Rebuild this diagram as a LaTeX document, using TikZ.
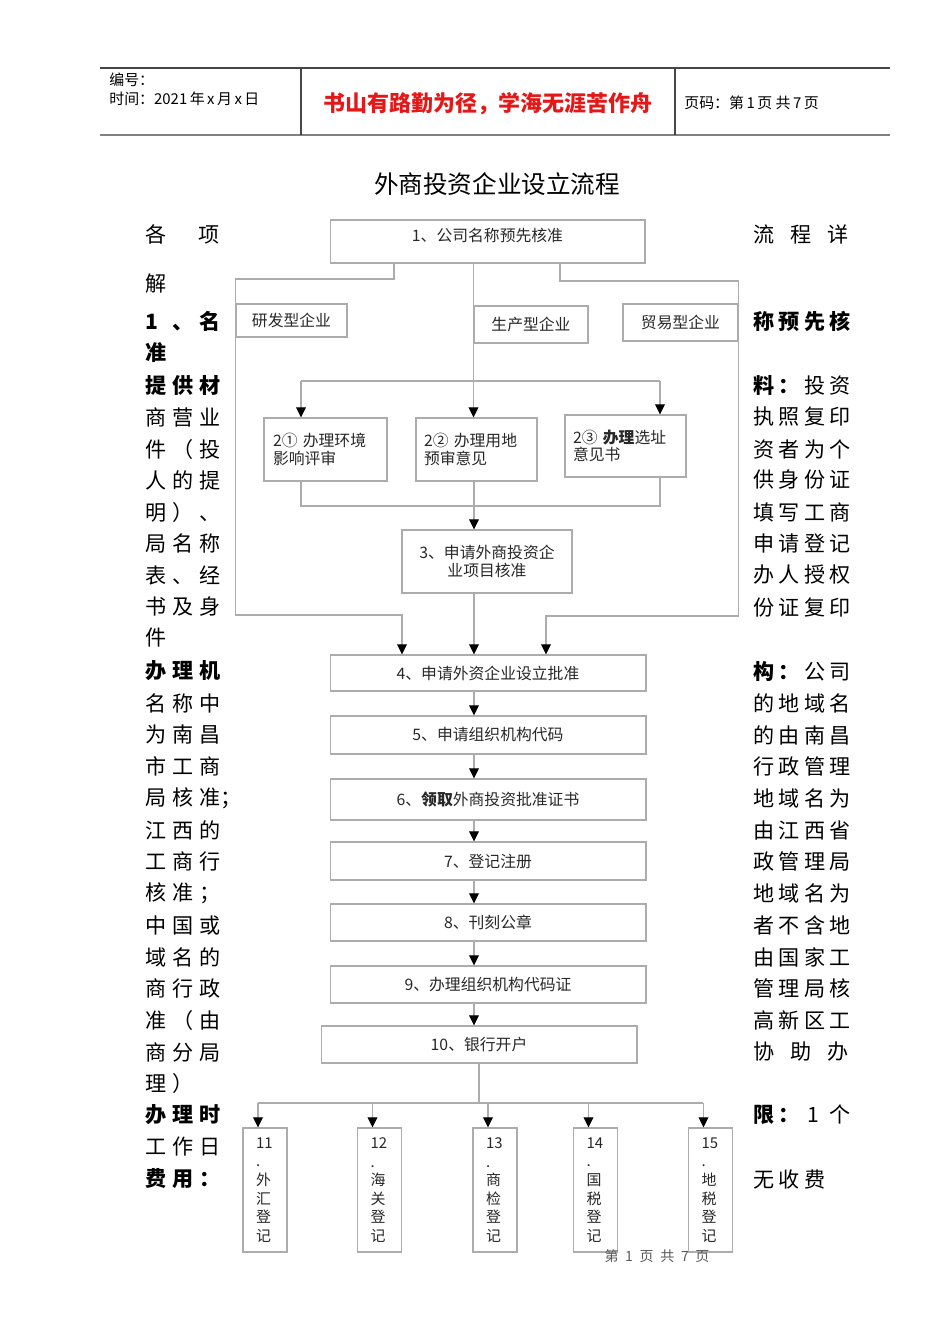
\documentclass[tikz,border=0pt]{standalone}
\usepackage{fontspec}
\setmainfont{Noto Sans CJK SC}
\usepackage{tikz}
\usetikzlibrary{arrows.meta,positioning,calc}
\definecolor{linegray}{RGB}{172,172,172}
\definecolor{ruleink}{RGB}{70,70,70}
\definecolor{mottored}{RGB}{228,24,24}
\definecolor{boxink}{RGB}{40,40,40}
% one character cell of the side columns
\newcommand\lc[1]{\makebox[0.54cm][l]{#1}}
\newcommand\rc[1]{\makebox[0.51cm][l]{#1}}
\newcommand\lrow[5][]{\node[colrow,#1] (l#2) at (145,#2) {\lc{#3}\lc{#4}\lc{#5}};}
\newcommand\rrow[6][]{\node[colrow,#1] (r#2) at (753,#2) {\rc{#3}\rc{#4}\rc{#5}\rc{#6}};}

\begin{document}
\begin{tikzpicture}[
  x=0.02cm, y=-0.02cm,
  box/.style={draw=linegray, line width=0.6pt, fill=white, inner sep=2pt, text=boxink, font=\fontsize{9}{10}\selectfont},
  conn/.style={draw=linegray, line width=0.6pt},
  arr/.style={conn, -{Triangle[width=5.6pt,length=5.8pt,color=black]}},
  colrow/.style={anchor=west, inner sep=0pt, font=\fontsize{12}{14}\selectfont},
  colbold/.style={font=\fontsize{12}{14}\selectfont\bfseries}
]
\useasboundingbox (0,0) rectangle (950,1344);
\fill[white] (0,0) rectangle (950,1344);

% Header
\draw[ruleink, line width=0.6pt] (100,68) -- (890,68);
\draw[gray, line width=1.2pt] (100,135) -- (890,135);
\draw[ruleink, line width=0.6pt] (301,68) -- (301,135);
\draw[ruleink, line width=0.6pt] (675,68) -- (675,135);
\node[anchor=west, inner sep=0pt, font=\fontsize{8.5}{10}\selectfont] (hno) at (109,80) {编号：};
\node[anchor=west, inner sep=0pt, font=\fontsize{8.5}{10}\selectfont] (htime) at (109,99) {时间：2021\,年\,x\,月\,x\,日};
\node[font=\fontsize{12.5}{14}\selectfont\bfseries, text=mottored] (motto) at (488,104) {书山有路勤为径，学海无涯苦作舟};
\node[anchor=west, inner sep=0pt, font=\fontsize{8.5}{10}\selectfont] (hpage) at (684,103) {页码：第\,1\,页\ 共\,7\,页};

\node[font=\fontsize{14}{16}\selectfont] (title) at (497,184) {外商投资企业设立流程};

% Flow boxes
\node[box, minimum width=6.3cm, minimum height=0.86cm, text depth=0.25cm] (n1) at (487.5,241.5) {1、公司名称预先核准};
\node[box, minimum width=2.22cm, minimum height=0.66cm] (rd) at (291.5,320.5) {研发型企业};
\node[box, minimum width=2.28cm, minimum height=0.74cm] (sc) at (531,324.5) {生产型企业};
\node[box, minimum width=2.3cm, minimum height=0.74cm] (my) at (680.5,322.5) {贸易型企业};

\node[box, minimum width=2.46cm, minimum height=1.26cm, text width=2.1cm, align=left] (b21) at (325.5,449.5) {2① 办理环境\\影响评审};
\node[box, minimum width=2.42cm, minimum height=1.26cm, text width=2.1cm, align=left] (b22) at (476.5,449.5) {2② 办理用地\\预审意见};
\node[box, minimum width=2.42cm, minimum height=1.24cm, text width=2.1cm, align=left] (b23) at (625.5,446) {2③ {\bfseries 办理}选址\\意见书};
\node[box, minimum width=3.4cm, minimum height=1.26cm, align=center] (b3) at (487,561.5) {3、申请外商投资企\\业项目核准};

\foreach \n/\y/\h/\t in {b4/673/0.72/{4、申请外资企业设立批准},
                         b5/735/0.76/{5、申请组织机构代码},
                         b6/799.5/0.82/{6、{\bfseries 领取}外商投资批准证书},
                         b7/861/0.76/{7、登记注册},
                         b8/922.5/0.74/{8、刊刻公章},
                         b9/984.5/0.74/{9、办理组织机构代码证}}
  \node[box, minimum width=6.32cm, minimum height=\h cm] (\n) at (488,\y) {\t};
\node[box, minimum width=6.32cm, minimum height=0.74cm] (b10) at (479,1044.5) {10、银行开户};

\foreach \i/\x/\t in {11/265/{外\\汇}, 12/379.5/{海\\关}, 13/495/{商\\检},
                      14/595.5/{国\\税}, 15/710.5/{地\\税}}
  \node[box, minimum width=0.88cm, minimum height=2.48cm, text width=0.36cm, align=left,
        font=\fontsize{8.5}{10.6}\selectfont] (b\i) at (\x,1190) {\i\\.\\\t\\登\\记};

% Connectors
\coordinate (k1) at (394,279);
\coordinate (k2) at (560,281);
\coordinate (k3) at (402,615);
\coordinate (k4) at (546,616);
\draw[conn] (n1.south -| k1) -- (k1) -| (rd.north west);
\draw[conn] (n1.south -| sc.north west) -- (sc.north west);
\draw[conn] (n1.south -| k2) -- (k2) -| (my.north east);
\draw[arr] (rd.south west) |- (k3) -- (k3 |- b4.north);
\draw[arr] (my.south east) |- (k4) -- (k4 |- b4.north);

\coordinate (br1) at (301,381);
\coordinate (br3) at (660,381);
\draw[conn] (br1) -- (br3);
\draw[arr] (br1) -- (br1 |- b21.north);
\draw[arr] (sc.south west) -- (sc.south west |- b22.north);
\draw[arr] (br3) -- (br3 |- b23.north);

\coordinate (jn1) at (301,506);
\coordinate (jn3) at (660,506);
\coordinate (mid) at (474,506);
\draw[conn] (jn1 |- b21.south) -- (jn1) -- (jn3) -- (jn3 |- b23.south);
\draw[arr] (b22.south -| mid) -- (mid |- b3.north);
\draw[arr] (b3.south -| mid) -- (mid |- b4.north);
\foreach \a/\b in {b4/b5, b5/b6, b6/b7, b7/b8, b8/b9, b9/b10}
  \draw[arr] (\a.south -| mid) -- (mid |- \b.north);

\coordinate (bt) at (479,1103);
\draw[conn] (b10.south -| bt) -- (bt);
\foreach \i in {11,...,15}{
  \path (b\i.north west) ++(15.5,0) coordinate (ab\i);
  \draw[arr] (ab\i |- bt) -- (ab\i);
}
\draw[conn] (ab11 |- bt) -- (ab15 |- bt);

\node[font=\fontsize{8}{10}\selectfont, text=black!65] (foot) at (657,1256) {\makebox[2.1cm][s]{第\hfill 1\hfill 页\hfill 共\hfill 7\hfill 页}};

% Left text column
\node[colrow] (l234) at (145,234) {\makebox[1.48cm][s]{各\hfill 项}};
\lrow{284}{解}{}{}
\lrow[colbold]{321}{1}{、}{名}
\lrow[colbold]{353}{准}{}{}
\lrow[colbold]{385}{提}{供}{材}
\lrow{417}{商}{营}{业}
\lrow{449}{件}{（}{投}
\lrow{480}{人}{的}{提}
\lrow{512}{明}{）}{、}
\lrow{543}{局}{名}{称}
\lrow{575}{表}{、}{经}
\lrow{607}{书}{及}{身}
\lrow{638}{件}{}{}
\lrow[colbold]{671}{办}{理}{机}
\lrow{703}{名}{称}{中}
\lrow{735}{为}{南}{昌}
\lrow{766}{市}{工}{商}
\lrow{798}{局}{核}{准\rlap{；}}
\lrow{830}{江}{西}{的}
\lrow{861}{工}{商}{行}
\lrow{893}{核}{准}{；}
\lrow{925}{中}{国}{或}
\lrow{957}{域}{名}{的}
\lrow{988}{商}{行}{政}
\lrow{1020}{准}{（}{由}
\lrow{1052}{商}{分}{局}
\lrow{1083}{理}{）}{}
\lrow[colbold]{1115}{办}{理}{时}
\lrow{1147}{工}{作}{日}
\lrow[colbold]{1179}{费}{用}{：}

% Right text column
\node[colrow] (r234) at (753,234) {\makebox[1.9cm][s]{流\hfill 程\hfill 详}};
\rrow[colbold]{321}{称}{预}{先}{核}
\rrow{385}{\bfseries 料}{\bfseries ：}{投}{资}
\rrow{417}{执}{照}{复}{印}
\rrow{449}{资}{者}{为}{个}
\rrow{480}{供}{身}{份}{证}
\rrow{512}{填}{写}{工}{商}
\rrow{543}{申}{请}{登}{记}
\rrow{575}{办}{人}{授}{权}
\rrow{607}{份}{证}{复}{印}
\rrow{671}{\bfseries 构}{\bfseries ：}{公}{司}
\rrow{703}{的}{地}{域}{名}
\rrow{735}{的}{由}{南}{昌}
\rrow{766}{行}{政}{管}{理}
\rrow{798}{地}{域}{名}{为}
\rrow{830}{由}{江}{西}{省}
\rrow{861}{政}{管}{理}{局}
\rrow{893}{地}{域}{名}{为}
\rrow{925}{者}{不}{含}{地}
\rrow{957}{由}{国}{家}{工}
\rrow{988}{管}{理}{局}{核}
\rrow{1020}{高}{新}{区}{工}
\node[colrow] (r1052) at (753,1052) {\makebox[1.9cm][s]{协\hfill 助\hfill 办}};
\rrow{1115}{\bfseries 限}{\bfseries ：}{\,1}{个}
\rrow{1179}{无}{收}{费}{}

\end{tikzpicture}
\end{document}
